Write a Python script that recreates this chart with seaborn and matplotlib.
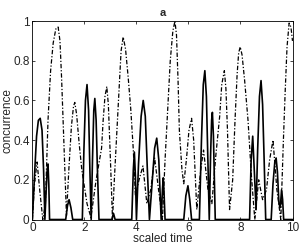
import matplotlib
matplotlib.use("Agg")
import matplotlib.pyplot as plt
import seaborn as sns
import pandas as pd

# solid curve (concurrence)
t_solid = [0.00, 0.08, 0.16, 0.23, 0.30, 0.37, 0.43, 0.48, 0.53, 0.57, 0.60, 0.63, 0.66,
           1.28, 1.35, 1.41, 1.48, 1.55,
           1.92, 1.98, 2.04, 2.10, 2.16, 2.21, 2.26, 2.31, 2.36, 2.40, 2.45, 2.50, 2.56,
           3.05, 3.12, 3.18,
           3.82, 3.88, 3.92, 3.96, 4.00, 4.08, 4.18, 4.26, 4.34, 4.42, 4.50,
           4.60, 4.70, 4.78, 4.86, 4.95, 5.00, 5.03, 5.06, 5.10,
           5.82, 5.90, 5.98, 6.05, 6.12,
           6.42, 6.50, 6.57, 6.63, 6.69, 6.75, 6.80, 6.85, 6.89, 6.92, 6.96, 7.00, 7.03,
           8.35, 8.41, 8.47, 8.53, 8.60, 8.66, 8.73, 8.79, 8.85, 8.91, 8.97,
           9.18, 9.25, 9.32, 9.37, 9.42, 9.48, 9.53, 9.58, 9.62, 9.66, 10.0]
c_solid = [0.00, 0.22, 0.42, 0.50, 0.51, 0.45, 0.25, 0.00, 0.15, 0.25, 0.28, 0.18, 0.00,
           0.00, 0.07, 0.10, 0.06, 0.00,
           0.00, 0.35, 0.60, 0.68, 0.55, 0.25, 0.00, 0.30, 0.55, 0.61, 0.50, 0.25, 0.00,
           0.00, 0.03, 0.00,
           0.00, 0.25, 0.34, 0.22, 0.00, 0.28, 0.52, 0.60, 0.52, 0.25, 0.00,
           0.18, 0.36, 0.41, 0.30, 0.00, 0.15, 0.21, 0.14, 0.00,
           0.00, 0.12, 0.17, 0.10, 0.00,
           0.00, 0.40, 0.68, 0.75, 0.62, 0.28, 0.00, 0.32, 0.50, 0.54, 0.42, 0.18, 0.00,
           0.00, 0.30, 0.42, 0.25, 0.05, 0.35, 0.62, 0.70, 0.58, 0.30, 0.00,
           0.00, 0.18, 0.29, 0.31, 0.24, 0.08, 0.06, 0.15, 0.10, 0.00, 0.00]

# dash-dot curve
t_dash = [0.00, 0.08, 0.18, 0.28, 0.40, 0.50, 0.60, 0.70, 0.80, 0.90, 0.99, 1.06,
          1.12, 1.18, 1.31, 1.40, 1.50, 1.58, 1.63, 1.70, 1.80, 1.90, 2.10, 2.25,
          2.45, 2.66, 2.72, 2.79, 2.86, 2.92, 3.00, 3.08, 3.15, 3.25, 3.33, 3.41,
          3.49, 3.58, 3.68, 3.78, 3.88, 3.96, 4.10, 4.25, 4.40, 4.55, 4.70, 4.85,
          5.00, 5.10, 5.20, 5.30, 5.40, 5.48, 5.54, 5.60, 5.65, 5.75, 5.82, 5.92,
          6.02, 6.12, 6.20, 6.32, 6.48, 6.58, 6.75, 6.90, 7.05, 7.20, 7.28, 7.38,
          7.44, 7.50, 7.58, 7.70, 7.79, 7.87, 7.93, 7.99, 8.06, 8.16, 8.29, 8.42,
          8.55, 8.70, 8.85, 9.00, 9.12, 9.25, 9.40, 9.55, 9.65, 9.72, 9.79, 9.87,
          9.94, 10.0]
c_dash = [0.00, 0.18, 0.29, 0.15, 0.00, 0.08, 0.50, 0.75, 0.89, 0.96, 0.97, 0.90,
          0.72, 0.50, 0.02, 0.25, 0.47, 0.57, 0.59, 0.53, 0.38, 0.25, 0.08, 0.01,
          0.20, 0.36, 0.50, 0.62, 0.67, 0.58, 0.30, 0.00, 0.20, 0.45, 0.65, 0.85,
          0.92, 0.86, 0.72, 0.56, 0.35, 0.12, 0.20, 0.27, 0.08, 0.15, 0.31, 0.15,
          0.00, 0.30, 0.55, 0.80, 0.95, 1.00, 0.93, 0.70, 0.45, 0.25, 0.18, 0.30,
          0.45, 0.51, 0.40, 0.05, 0.26, 0.35, 0.15, 0.08, 0.32, 0.52, 0.68, 0.75,
          0.66, 0.45, 0.05, 0.20, 0.50, 0.73, 0.84, 0.87, 0.83, 0.70, 0.50, 0.22,
          0.00, 0.20, 0.10, 0.15, 0.30, 0.40, 0.15, 0.00, 0.40, 0.65, 0.87, 0.99,
          0.97, 0.90]

x_ticks = [0, 2, 4, 6, 8, 10]
y_ticks = [0, 0.2, 0.4, 0.6, 0.8, 1]
y_tick_labels = ["0", "0.2", "0.4", "0.6", "0.8", "1"]

sns.set_style("ticks")
plt.rcParams['font.family'] = ['Liberation Sans', 'DejaVu Sans']

fig = plt.figure(figsize=(3.0, 2.45), dpi=100)
ax = fig.add_axes([0.108, 0.104, 0.867, 0.810])

df_s = pd.DataFrame({"t": t_solid, "c": c_solid})
df_d = pd.DataFrame({"t": t_dash, "c": c_dash})
sns.lineplot(data=df_d, x="t", y="c", ax=ax, color="black", linewidth=0.9,
             estimator=None, sort=False)
ax.lines[-1].set_linestyle((0, (3.5, 1.5, 1, 1.5)))
sns.lineplot(data=df_s, x="t", y="c", ax=ax, color="black", linewidth=1.2,
             estimator=None, sort=False)

ax.set_xlim(0, 10)
ax.set_ylim(0, 1)
ax.set_xticks(x_ticks)
ax.set_xticklabels([str(v) for v in x_ticks])
ax.set_yticks(y_ticks)
ax.set_yticklabels(y_tick_labels)
ax.tick_params(direction="in", length=2.5, width=0.6, labelsize=8.5, pad=2,
               top=True, right=True)
for s in ax.spines.values():
    s.set_visible(True)
    s.set_linewidth(0.6)
    s.set_color("black")
ax.set_xlabel("scaled time", fontsize=8.5, labelpad=-1)
ax.set_ylabel("concurrence", fontsize=8.5, labelpad=0)
ax.set_title("a", fontsize=8, fontweight="bold", pad=4)

fig.savefig("out.png", dpi=100)
